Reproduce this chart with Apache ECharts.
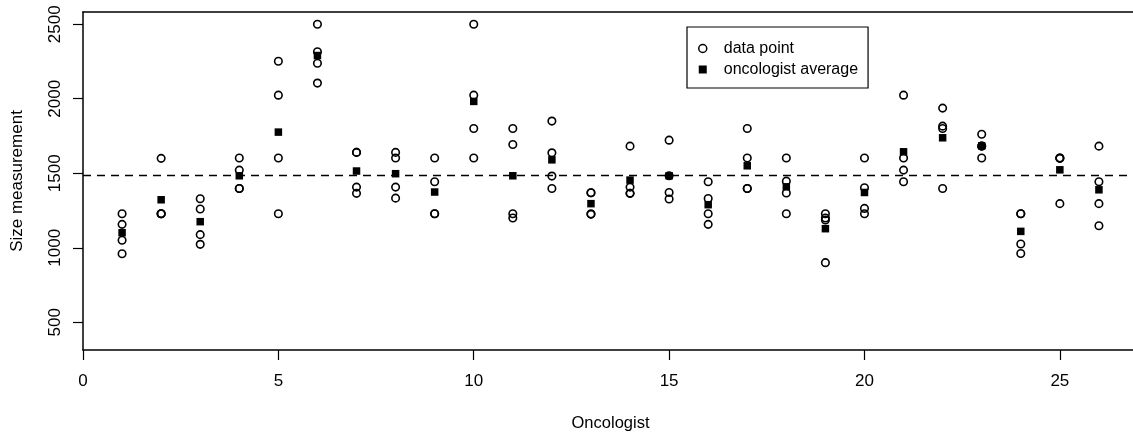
<!DOCTYPE html>
<html>
<head>
<meta charset="utf-8">
<script src="https://cdn.jsdelivr.net/npm/echarts@6/dist/echarts.min.js"></script>
<style>
  html, body { margin: 0; padding: 0; background: #fff; }
  #chart { width: 1133px; height: 438px; }
</style>
</head>
<body>
<div id="chart"></div>
<script>
// ---- data ----
const oncologists = [1,2,3,4,5,6,7,8,9,10,11,12,13,14,15,16,17,18,19,20,21,22,23,24,25,26];
const measurements = [
  [1228, 1157, 1050, 960],
  [1600, 1228, 1228, 1228],
  [1329, 1260, 1088, 1023],
  [1602, 1521, 1398, 1398],
  [2252, 2024, 1602, 1228],
  [2500, 2315, 2238, 2105],
  [1640, 1640, 1407, 1365],
  [1640, 1602, 1407, 1333],
  [1602, 1443, 1228, 1228],
  [2500, 2024, 1800, 1602],
  [1800, 1693, 1228, 1200],
  [1850, 1637, 1481, 1398],
  [1369, 1369, 1226, 1226],
  [1682, 1407, 1365, 1365],
  [1722, 1483, 1371, 1327],
  [1443, 1331, 1228, 1157],
  [1800, 1602, 1398, 1398],
  [1602, 1447, 1367, 1228],
  [1228, 1200, 1186, 900],
  [1602, 1403, 1264, 1228],
  [2024, 1602, 1521, 1443],
  [1937, 1816, 1800, 1398],
  [1762, 1682, 1682, 1602],
  [1228, 1228, 1025, 962],
  [1602, 1602, 1600, 1296],
  [1682, 1443, 1296, 1148]
];
const averages = [1101, 1322, 1175, 1483, 1776, 2290, 1515, 1497, 1374, 1982, 1483, 1590, 1296,
                  1454, 1483, 1289, 1550, 1409, 1128, 1371, 1644, 1738, 1684, 1110, 1523, 1389];
const overallMean = 1488;
const xTicks = [0, 5, 10, 15, 20, 25];
const yTicks = [500, 1000, 1500, 2000, 2500];
const xLabel = 'Oncologist';
const yLabel = 'Size measurement';
const legendNames = ['data point', 'oncologist average'];

// ---- build series data ----
const pointData = [];
oncologists.forEach((o, i) => measurements[i].forEach(v => pointData.push([o, v])));
const avgData = oncologists.map((o, i) => [o, averages[i]]);

const FONT = "'Liberation Sans', Arial, Helvetica, sans-serif";
const chart = echarts.init(document.getElementById('chart'), null, { renderer: 'canvas' });
chart.setOption({
  animation: false,
  backgroundColor: '#fff',
  textStyle: { fontFamily: FONT, color: '#000' },
  grid: {
    left: 83, top: 12, width: 1055, height: 338,
    outerBoundsMode: 'none', containLabel: false,
    show: false
  },
  legend: {
    orient: 'vertical',
    left: 687, top: 27,
    padding: [11, 10, 8, 11],
    itemWidth: 8, itemHeight: 8, itemGap: 0,
    borderColor: '#000', borderWidth: 1.2,
    textStyle: { fontFamily: FONT, fontSize: 16, color: '#000', lineHeight: 21, padding: [0, 0, 0, 12] },
    data: [
      { name: legendNames[0], icon: 'circle', itemStyle: { color: 'transparent', borderColor: '#000', borderWidth: 1.5 } },
      { name: legendNames[1], icon: 'rect', itemStyle: { color: '#000', borderWidth: 0 } }
    ]
  },
  xAxis: [
    {
      type: 'value', min: 0, max: 27, position: 'bottom',
      name: xLabel, nameLocation: 'middle', nameGap: 65,
      nameTextStyle: { fontFamily: FONT, fontSize: 16.5, color: '#000' },
      splitLine: { show: false },
      axisLine: { show: true, onZero: false, lineStyle: { color: '#000', width: 1.5 } },
      axisTick: { show: true, length: 10, customValues: xTicks, lineStyle: { color: '#000', width: 1.2 } },
      axisLabel: { customValues: xTicks, margin: 23, fontFamily: FONT, fontSize: 17, color: '#000',
                   formatter: v => String(v) }
    },
    {
      type: 'value', min: 0, max: 27, position: 'top',
      splitLine: { show: false },
      axisLine: { show: true, onZero: false, lineStyle: { color: '#000', width: 1.5 } },
      axisTick: { show: false },
      axisLabel: { show: false }
    }
  ],
  yAxis: {
    type: 'value', min: 314, max: 2582,
    name: yLabel, nameLocation: 'middle', nameGap: 57, nameRotate: 90,
    nameTextStyle: { fontFamily: FONT, fontSize: 17, color: '#000' },
    splitLine: { show: false },
    axisLine: { show: true, onZero: false, lineStyle: { color: '#000', width: 1.5 } },
    axisTick: { show: true, length: 10, customValues: yTicks, lineStyle: { color: '#000', width: 1.2 } },
    axisLabel: { customValues: yTicks, rotate: 90, margin: 19, fontFamily: FONT, fontSize: 17, color: '#000',
                 formatter: v => String(v) }
  },
  series: [
    {
      name: legendNames[0],
      type: 'scatter', xAxisIndex: 0,
      symbol: 'circle', symbolSize: 7.5,
      itemStyle: { color: 'transparent', borderColor: '#000', borderWidth: 1.6, opacity: 1 },
      data: pointData,
      markLine: {
        silent: true, symbol: ['none', 'none'],
        label: { show: false },
        lineStyle: { color: '#000', width: 1.3, type: [8, 6] },
        data: [{ yAxis: overallMean }]
      }
    },
    {
      name: legendNames[1],
      type: 'scatter', xAxisIndex: 0,
      symbol: 'rect', symbolSize: 7.5,
      itemStyle: { color: '#000', opacity: 1 },
      data: avgData
    }
  ]
});
</script>
</body>
</html>
